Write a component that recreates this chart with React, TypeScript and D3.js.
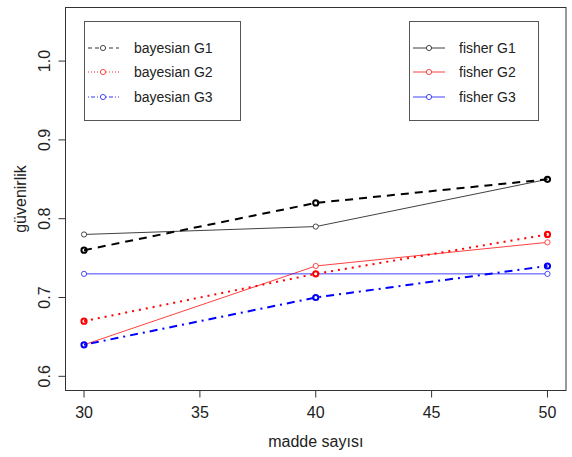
import React from "react";
import * as d3 from "d3";

const xValues = [30, 40, 50];
const bayesG1 = [0.76, 0.82, 0.85];
const bayesG2 = [0.67, 0.73, 0.78];
const bayesG3 = [0.64, 0.70, 0.74];
const fisherG1 = [0.78, 0.79, 0.85];
const fisherG2 = [0.64, 0.74, 0.77];
const fisherG3 = [0.73, 0.73, 0.73];
const xTicks = [30, 35, 40, 45, 50];
const yTicks = [0.6, 0.7, 0.8, 0.9, 1.0];
const bayesLabels = ["bayesian G1", "bayesian G2", "bayesian G3"];
const fisherLabels = ["fisher G1", "fisher G2", "fisher G3"];

const colors = ["#000000", "#ff0000", "#0000ff"];
const bayesDash = ["8 6", "2 5", "2 5 8 5"];
const legendDash = ["4 3", "1 2", "1 2 4 2"];

export default function App() {
  const W = 572, H = 457;
  const L = 65.5, R = 566, T = 7.5, B = 390.5;
  const x = d3.scaleLinear().domain([29.2, 50.8]).range([L, R]);
  const y = d3.scaleLinear().domain([0.582, 1.068]).range([B, T]);
  const line = d3.line<number>().x((_, i) => x(xValues[i])).y((v) => y(v));
  const font = "Liberation Sans, Arial, sans-serif";
  const bayes = [bayesG1, bayesG2, bayesG3];
  const fisher = [fisherG1, fisherG2, fisherG3];
  const legY = [48, 72, 97];
  return (
    <svg width={W} height={H} style={{ position: "absolute", left: 0, top: 0, background: "#fff" }} fontFamily={font}>
      <rect x={0} y={0} width={W} height={H} fill="#fff" />
      {fisher.map((s, k) => (
        <g key={"f" + k}>
          <path d={line(s) || ""} fill="none" stroke={colors[k]} strokeWidth={1} strokeOpacity={0.75} />
          {s.map((v, i) => (
            <circle key={i} cx={x(xValues[i])} cy={y(v)} r={2.6} fill="#fff" stroke={colors[k]} strokeOpacity={0.7} strokeWidth={1} />
          ))}
        </g>
      ))}
      {bayes.map((s, k) => (
        <g key={"b" + k}>
          <path d={line(s) || ""} fill="none" stroke={colors[k]} strokeWidth={2} strokeDasharray={bayesDash[k]} />
          {s.map((v, i) => (
            <circle key={i} cx={x(xValues[i])} cy={y(v)} r={2.6} fill="none" stroke={colors[k]} strokeWidth={2} />
          ))}
        </g>
      ))}
      <rect x={L} y={T} width={R - L} height={B - T} fill="none" stroke="#333" strokeWidth={1} />
      {xTicks.map((t) => (
        <g key={t}>
          <line x1={x(t)} x2={x(t)} y1={B} y2={B + 7} stroke="#333" />
          <text x={x(t)} y={418} textAnchor="middle" fontSize={16} fill="#222">{t}</text>
        </g>
      ))}
      {yTicks.map((t) => (
        <g key={t}>
          <line x1={L - 7} x2={L} y1={y(t)} y2={y(t)} stroke="#333" />
          <text transform={`translate(50,${y(t)}) rotate(-90)`} textAnchor="middle" fontSize={16} fill="#222">{t.toFixed(1)}</text>
        </g>
      ))}
      <text x={(L + R) / 2} y={447} textAnchor="middle" fontSize={16} fill="#222">madde sayısı</text>
      <text transform={`translate(26,${(T + B) / 2}) rotate(-90)`} textAnchor="middle" fontSize={16} fill="#222">güvenirlik</text>

      <rect x={84.5} y={21.5} width={156} height={99} fill="#fff" stroke="#555" />
      {bayesLabels.map((lab, k) => (
        <g key={lab}>
          <line x1={88} x2={119} y1={legY[k]} y2={legY[k]} stroke={colors[k]} strokeWidth={1} strokeDasharray={legendDash[k]} strokeOpacity={0.8} />
          <circle cx={103} cy={legY[k]} r={2.6} fill="#fff" stroke={colors[k]} strokeOpacity={0.7} />
          <text x={134} y={legY[k] + 5} fontSize={14} fill="#222">{lab}</text>
        </g>
      ))}
      <rect x={409.5} y={21.5} width={129} height={99} fill="#fff" stroke="#555" />
      {fisherLabels.map((lab, k) => (
        <g key={lab}>
          <line x1={413} x2={445} y1={legY[k]} y2={legY[k]} stroke={colors[k]} strokeWidth={1} strokeOpacity={0.75} />
          <circle cx={429} cy={legY[k]} r={2.6} fill="#fff" stroke={colors[k]} strokeOpacity={0.7} />
          <text x={459} y={legY[k] + 5} fontSize={14} fill="#222">{lab}</text>
        </g>
      ))}
    </svg>
  );
}
